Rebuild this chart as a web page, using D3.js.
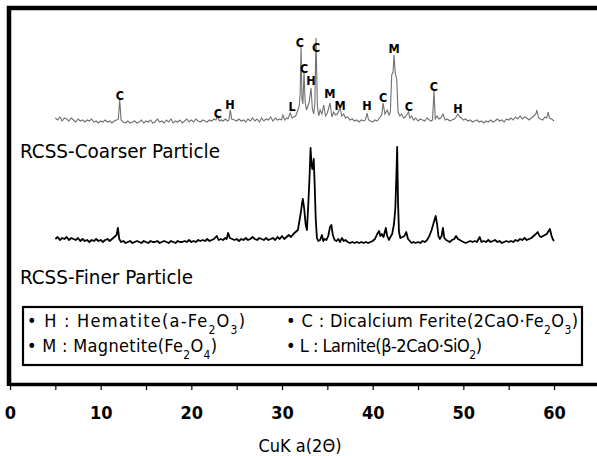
<!DOCTYPE html>
<html>
<head>
<meta charset="utf-8">
<script src="https://cdn.jsdelivr.net/npm/d3@7"></script>
<style>
  body { margin: 0; background: #fff; }
  text { font-family: "DejaVu Sans Condensed", "Liberation Sans Narrow", "DejaVu Sans", sans-serif; font-stretch: condensed; }
</style>
</head>
<body>
<script>
// Scan data: [2theta, intensity]
let coarseScan = [
  [5,6],[5.25,4],[5.5,7],[5.75,3],[6,6],[6.25,5],[6.5,3],[6.75,6],[7,4],[7.25,2],[7.5,5],[7.75,3],[8,4],[8.25,2],[8.5,4],[8.75,3],
  [9,5],[9.25,2],[9.5,3],[9.75,1],[10,3],[10.25,2],[10.5,4],[10.75,2],[11,3],[11.25,1],[11.5,3],[11.75,4],[11.95,5],[12.1,24],[12.25,4],
  [12.5,2],[12.75,1],[13,3],[13.25,1],[13.5,2],[13.75,3],[14,1],[14.25,2],[14.5,4],[14.75,1],[15,3],[15.25,2],[15.5,4],[15.75,1],
  [16,2],[16.25,5],[16.5,2],[16.75,3],[17,1],[17.25,4],[17.5,2],[17.75,5],[18,1],[18.25,3],[18.5,2],[18.75,4],[19,1],[19.25,3],
  [19.5,5],[19.75,2],[20,4],[20.25,2],[20.5,5],[20.75,3],[21,2],[21.25,4],[21.5,3],[21.75,2],[22,4],[22.25,3],[22.5,5],[22.7,4],
  [22.9,8],[23.1,3],[23.3,4],[23.5,3],[23.75,5],[24,3],[24.15,4],[24.3,14],[24.45,5],[24.75,4],[25,3],[25.25,5],[25.5,3],[25.75,4],
  [26,2],[26.25,5],[26.5,3],[26.75,6],[27,3],[27.25,5],[27.5,2],[27.75,6],[28,3],[28.25,5],[28.5,4],[28.75,7],[29,3],[29.25,6],
  [29.5,4],[29.75,5],[29.95,4],[30.1,9],[30.3,4],[30.5,6],[30.65,5],[30.9,11],[31.1,6],[31.3,7],[31.5,8],[31.75,14],[31.9,18],
  [32,30],[32.1,77],[32.2,25],[32.3,20],[32.43,52],[32.55,22],[32.7,14],[32.85,18],[33,22],[33.2,36],[33.35,15],[33.5,10],
  [33.62,20],[33.75,86],[33.9,18],[34.05,8],[34.2,14],[34.4,10],[34.6,19],[34.8,8],[35,11],[35.3,21],[35.5,7],[35.7,12],[35.9,9],
  [36.1,10],[36.4,16],[36.6,8],[36.8,10],[37,6],[37.25,7],[37.5,4],[37.75,5],[38,3],[38.25,4],[38.5,2],[38.75,4],[39,3],[39.2,4],
  [39.37,11],[39.55,4],[39.75,3],[40,2],[40.25,4],[40.5,3],[40.75,6],[41,9],[41.15,21],[41.35,10],[41.6,14],[41.8,9],[41.95,12],
  [42.1,49],[42.25,52],[42.35,69],[42.5,50],[42.65,45],[42.8,12],[43,8],[43.2,10],[43.4,6],[43.6,7],[43.95,12],[44.1,6],[44.3,8],
  [44.5,4],[44.75,6],[45,3],[45.25,5],[45.5,4],[45.75,3],[46,6],[46.25,4],[46.45,3],[46.6,4],[46.76,33],[46.9,5],[47.1,8],[47.3,5],
  [47.5,6],[47.75,10],[48,4],[48.25,5],[48.5,3],[48.75,4],[49,5],[49.2,7],[49.4,10],[49.6,7],[49.8,6],[50,4],[50.25,5],[50.5,3],
  [50.75,4],[51,2],[51.25,3],[51.5,4],[51.75,2],[52,3],[52.25,1],[52.5,3],[52.75,2],[53,4],[53.25,2],[53.5,3],[53.75,5],[54,3],
  [54.25,4],[54.5,2],[54.75,5],[55,4],[55.25,6],[55.5,4],[55.75,7],[56,5],[56.25,8],[56.5,5],[56.75,7],[57,6],[57.25,4],[57.5,6],
  [57.75,8],[58,10],[58.1,14],[58.3,6],[58.5,5],[58.75,4],[59,7],[59.2,6],[59.35,12],[59.5,6],[59.75,5],[60,3]
];

let fineScan = [
  [5,5],[5.25,7],[5.5,4],[5.75,6],[6,5],[6.25,7],[6.5,4],[6.75,6],[7,5],[7.25,4],[7.5,6],[7.75,3],[8,5],[8.25,3],[8.5,4],[8.75,2],
  [9,4],[9.25,3],[9.5,5],[9.75,3],[10,4],[10.25,2],[10.5,4],[10.75,5],[11,3],[11.25,5],[11.5,7],[11.75,9],[11.9,16],[12.05,5],
  [12.25,2],[12.5,3],[12.75,1],[13,2],[13.25,3],[13.5,1],[13.75,2],[14,3],[14.25,2],[14.5,1],[14.75,3],[15,2],[15.25,1],[15.5,3],
  [15.75,2],[16,2],[16.25,3],[16.5,1],[16.75,2],[17,3],[17.25,2],[17.5,1],[17.75,3],[18,2],[18.25,1],[18.5,3],[18.75,2],[19,2],
  [19.25,3],[19.5,2],[19.75,4],[20,2],[20.25,3],[20.5,2],[20.75,4],[21,3],[21.25,4],[21.5,3],[21.75,5],[22,3],[22.25,4],[22.5,5],
  [22.8,8],[23,4],[23.25,5],[23.5,4],[23.75,6],[23.9,5],[24.05,11],[24.25,6],[24.5,5],[24.75,4],[25,5],[25.25,3],[25.5,5],[25.75,4],
  [26,6],[26.25,4],[26.5,5],[26.75,7],[27,5],[27.25,4],[27.5,6],[27.75,5],[28,4],[28.25,6],[28.5,4],[28.75,5],[29,6],[29.25,4],
  [29.5,7],[29.75,5],[30,8],[30.25,5],[30.5,7],[30.75,9],[31,7],[31.25,10],[31.5,12],[31.75,14],[31.9,22],[32.05,30],[32.2,40],
  [32.3,45],[32.45,35],[32.6,20],[32.75,14],[32.9,40],[33.05,70],[33.15,96],[33.25,80],[33.35,75],[33.5,85],[33.6,60],[33.72,25],
  [33.85,6],[34,3],[34.2,4],[34.4,9],[34.55,3],[34.7,5],[34.9,4],[35.1,8],[35.3,17],[35.45,19],[35.6,9],[35.8,4],[36,3],[36.2,5],
  [36.4,2],[36.6,6],[36.8,3],[37,4],[37.25,2],[37.5,1],[37.75,2],[38,1],[38.25,2],[38.5,1],[38.75,2],[39,1],[39.25,2],[39.5,1],
  [39.75,2],[40,3],[40.25,5],[40.5,10],[40.7,13],[40.85,8],[41,10],[41.2,7],[41.45,16],[41.6,8],[41.8,4],[41.95,7],[42.15,10],
  [42.35,20],[42.5,36],[42.62,70],[42.7,97],[42.8,40],[42.9,12],[43.05,6],[43.3,7],[43.5,8],[43.7,12],[43.9,5],[44.1,3],[44.3,1],
  [44.5,2],[44.75,1],[45,2],[45.25,1],[45.5,3],[45.75,2],[46,4],[46.25,8],[46.5,14],[46.75,22],[46.95,28],[47.1,20],[47.25,8],
  [47.4,5],[47.6,8],[47.75,16],[47.9,6],[48.1,4],[48.3,3],[48.5,2],[48.75,4],[49,5],[49.2,8],[49.4,5],[49.6,4],[49.8,3],[50,2],
  [50.25,1],[50.5,2],[50.75,3],[51,2],[51.25,3],[51.5,2],[51.8,7],[52,2],[52.25,3],[52.5,2],[52.75,4],[53,2],[53.25,3],[53.5,4],
  [53.75,2],[54,3],[54.25,1],[54.5,2],[54.75,3],[55,2],[55.25,3],[55.5,2],[55.75,4],[56,3],[56.25,5],[56.5,4],[56.75,6],[57,4],
  [57.25,5],[57.5,6],[57.75,8],[58,10],[58.2,12],[58.4,8],[58.6,7],[58.8,8],[59,9],[59.2,10],[59.4,13],[59.55,15],[59.7,9],
  [59.85,5],[60,3]
];

// phase marks on the coarse scan
let peakMarks  = ['C','C','H','L','C','C','H','C','M','M','H','C','M','C','C','H'];
let peakAngles = [12.13,22.94,24.26,31.1,31.98,32.43,33.2,33.75,35.29,36.4,39.37,41.14,42.35,44.0,46.76,49.41];
let peakLevels = [24,6,15,13,77,51,39,72,26,14,14,22,71,13,33,11];

let seriesNames = ['RCSS-Coarser Particle', 'RCSS-Finer Particle'];

let legendKeys  = ['H', 'C', 'M', 'L'];
let legendNames = ['Hematite(a-Fe_2O_3)', 'Dicalcium Ferite(2CaO·Fe_2O_3)', 'Magnetite(Fe_2O_4)', 'Larnite(β-2CaO·SiO_2)'];

let tickValues = [0,5,10,15,20,25,30,35,40,45,50,55,60];
let xTitle = 'CuK a(2Θ)';

let width = 597, height = 456;

let svg = d3.select('body')
            .append('svg')
            .attr('width', width)
            .attr('height', height)
            .style('background', '#fff')

let x = d3.scaleLinear()
          .domain([0, 64.74])
          .range([10, 597])

let yCoarse = d3.scaleLinear().domain([0, 100]).range([124, 24])
let yFine   = d3.scaleLinear().domain([0, 100]).range([244, 144])

// frame
svg.append('line').attr('x1', 7).attr('x2', width).attr('y1', 8).attr('y2', 8)
   .attr('stroke', '#000').attr('stroke-width', 4.5)
svg.append('line').attr('x1', 9).attr('x2', 9).attr('y1', 6).attr('y2', 386)
   .attr('stroke', '#000').attr('stroke-width', 4.5)

// x axis
let xaxis = svg.append('g')
               .attr('transform', 'translate(0,384)')
               .call(d3.axisBottom(x)
                       .tickValues(tickValues)
                       .tickSize(6)
                       .tickSizeOuter(0)
                       .tickFormat(d => d % 10 === 0 ? d : ''))
xaxis.select('.domain').attr('stroke-width', 3.5)
xaxis.selectAll('.tick line').attr('stroke-width', 1.2)
xaxis.selectAll('.tick text')
     .attr('y', 35).attr('dy', 0)
     .attr('font-size', 18)
     .attr('fill', '#000')
     .style('font-weight', 'bold')

svg.append('text')
   .text(xTitle)
   .attr('x', 300)
   .attr('y', 452)
   .attr('text-anchor', 'middle')
   .attr('font-size', 18)

// scans
let line = (ys) => d3.line().x(d => x(d[0])).y(d => ys(d[1]))

svg.append('path')
   .datum(coarseScan)
   .attr('d', line(yCoarse))
   .attr('fill', 'none')
   .attr('stroke', '#707070')
   .attr('stroke-width', 1.1)

svg.append('path')
   .datum(fineScan)
   .attr('d', line(yFine))
   .attr('fill', 'none')
   .attr('stroke', '#000')
   .attr('stroke-width', 1.8)
   .attr('stroke-linejoin', 'round')

// peak letters
svg.append('g')
   .selectAll('text')
   .data(peakMarks)
   .join('text')
   .text(d => d)
   .attr('x', (d, i) => x(peakAngles[i]))
   .attr('y', (d, i) => yCoarse(peakLevels[i]))
   .attr('text-anchor', 'middle')
   .attr('font-size', 12.5)
   .style('font-weight', 'bold')

// series names
svg.append('text').text(seriesNames[0]).attr('x', 20).attr('y', 158)
   .attr('font-size', 20).attr('textLength', 200).attr('lengthAdjust', 'spacingAndGlyphs')
svg.append('text').text(seriesNames[1]).attr('x', 20).attr('y', 284)
   .attr('font-size', 20).attr('textLength', 173).attr('lengthAdjust', 'spacingAndGlyphs')

// legend box
svg.append('rect')
   .attr('x', 23).attr('y', 307)
   .attr('width', 559).attr('height', 58)
   .attr('fill', 'none')
   .attr('stroke', '#000')
   .attr('stroke-width', 2.2)

let legendPos = [[27, 327], [286, 327], [27, 352], [286, 352]]
let legendLen = [218, 292, 190, 196]

legendKeys.forEach((k, i) => {
  let t = svg.append('text')
             .attr('x', legendPos[i][0])
             .attr('y', legendPos[i][1])
             .attr('font-size', 18)
             .attr('textLength', legendLen[i])
             .attr('lengthAdjust', 'spacing')
  t.append('tspan').text('• ' + k + ' : ')
  legendNames[i].split(/_(\d)/).forEach((part, j) => {
    if (j % 2 === 1) {
      t.append('tspan').text(part).attr('font-size', 12).attr('baseline-shift', 'sub')
    } else if (part) {
      t.append('tspan').text(part)
    }
  })
})
</script>
</body>
</html>
